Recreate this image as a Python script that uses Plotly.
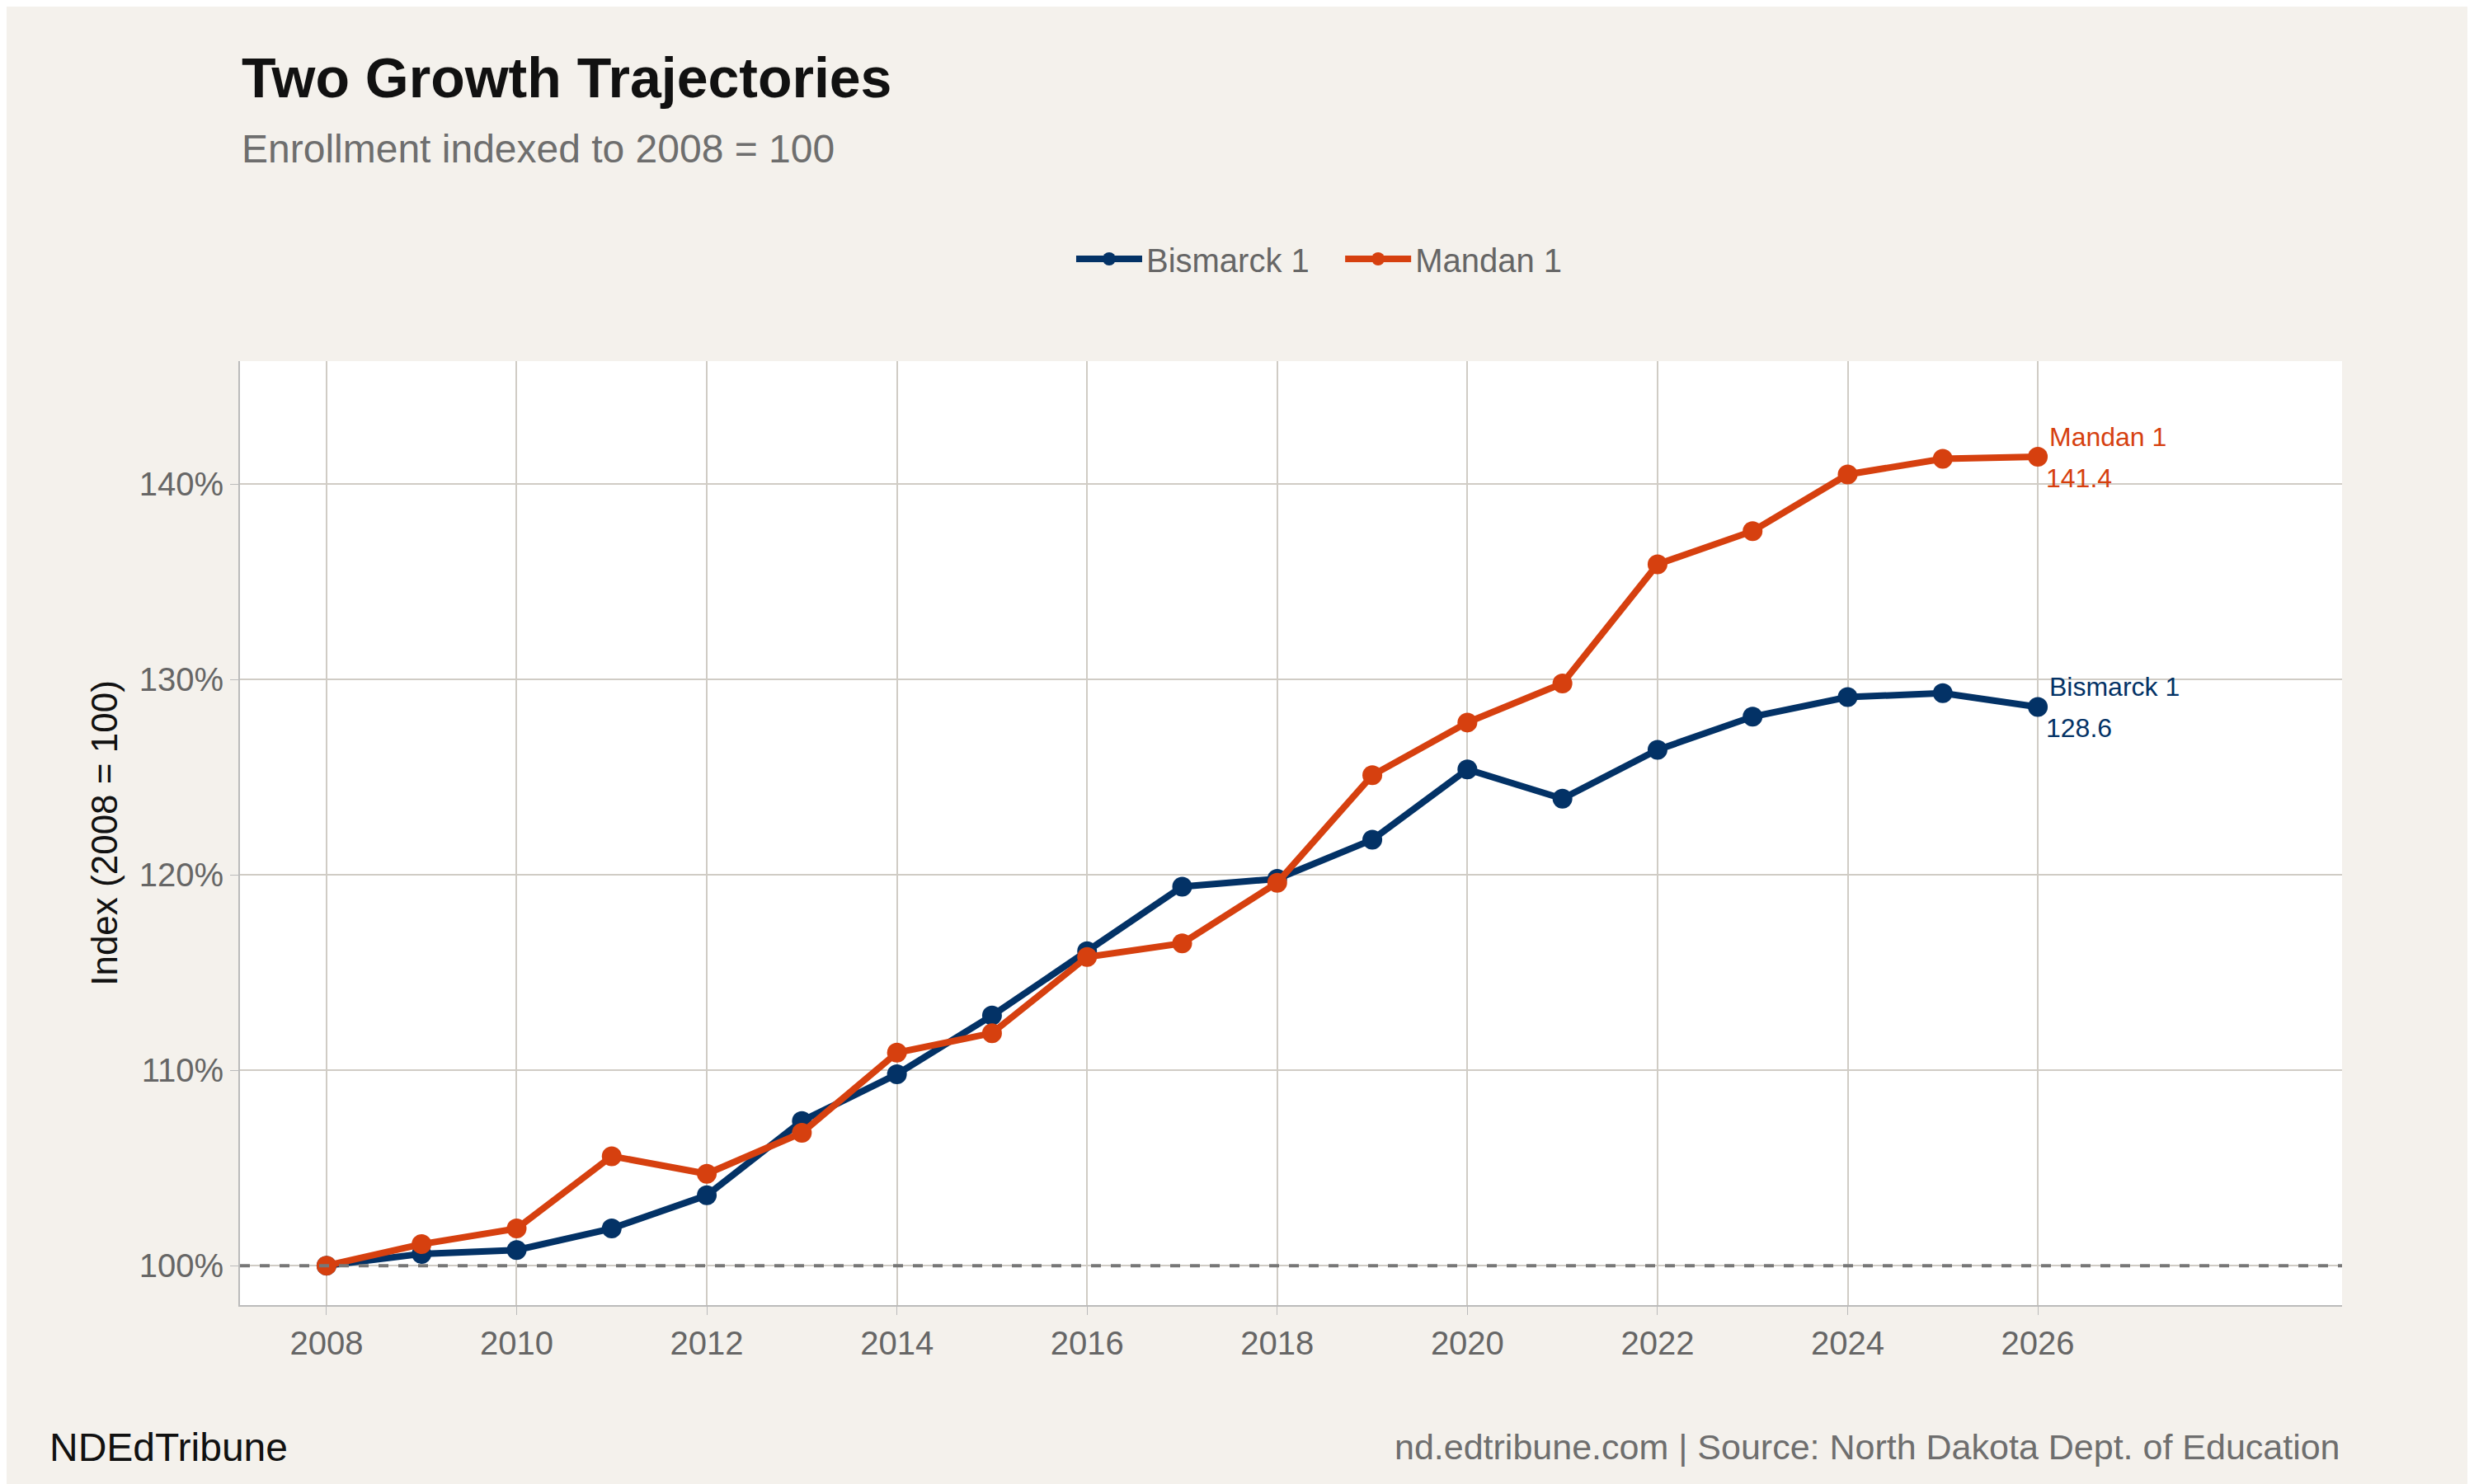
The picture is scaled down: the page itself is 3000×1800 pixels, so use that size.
import plotly.graph_objects as go

years = list(range(2008, 2027))
bismarck = [100, 100.6, 100.8, 101.9, 103.6, 107.4, 109.8, 112.8, 116.1, 119.4,
            119.8, 121.8, 125.4, 123.9, 126.4, 128.1, 129.1, 129.3, 128.6]
mandan = [100, 101.1, 101.9, 105.6, 104.7, 106.8, 110.9, 111.9, 115.8, 116.5,
          119.6, 125.1, 127.8, 129.8, 135.9, 137.6, 140.5, 141.3, 141.4]
names = ["Bismarck 1", "Mandan 1"]
colors = ["#033266", "#d6400f"]
y_ticks = [100, 110, 120, 130, 140]
y_labels = ["100%", "110%", "120%", "130%", "140%"]

W, H = 3000, 1800
L, R, T, B = 283, 168, 430, 225
font = "Liberation Sans, Arial, sans-serif"

fig = go.Figure()
for name, vals, c in zip(names, [bismarck, mandan], colors):
    fig.add_trace(go.Scatter(x=years, y=vals, name=name + "   ", mode="lines+markers",
                             line=dict(color=c, width=8), marker=dict(size=24, color=c)))
    fig.add_annotation(x=years[-1], y=vals[-1], text=name, showarrow=False, xanchor="left",
                       yanchor="bottom", xshift=12, yshift=4, font=dict(size=32, color=c, family=font))
    fig.add_annotation(x=years[-1], y=vals[-1], text=f"{vals[-1]:.1f}", showarrow=False, xanchor="left",
                       yanchor="top", xshift=8, yshift=-6, font=dict(size=32, color=c, family=font))

fig.add_hline(y=100, line=dict(color="#777777", width=4, dash="dash"))

fig.update_layout(
    width=W, height=H, paper_bgcolor="#f4f1ec", plot_bgcolor="white",
    margin=dict(l=L, r=R, t=T, b=B),
    font=dict(family=font, color="#666666", size=40),
    showlegend=True,
    legend=dict(orientation="h", x=0.52, xref="paper", xanchor="center", y=1 - 306 / H,
                yref="container", yanchor="middle", font=dict(size=40, color="#666666"),
                itemwidth=80),
    xaxis=dict(range=[2007.09, 2029.2], tickmode="array", tickvals=list(range(2008, 2027, 2)),
               showgrid=True, gridcolor="#d0ccc5", gridwidth=2, showline=True, linecolor="#bbbbbb",
               linewidth=2, zeroline=False, ticks="outside", ticklen=10, tickcolor="#bbbbbb"),
    yaxis=dict(range=[97.98, 146.3], tickmode="array", tickvals=y_ticks, ticktext=y_labels,
               showgrid=True, gridcolor="#d0ccc5", gridwidth=2, showline=True, linecolor="#bbbbbb",
               linewidth=2, zeroline=False, ticks="outside", ticklen=10, tickcolor="#bbbbbb",
               title=dict(text="Index (2008 = 100)", font=dict(size=44, color="#111111"), standoff=12)),
)

fig.add_annotation(text="<b>Two Growth Trajectories</b>", xref="paper", yref="paper", x=0, y=1 - (86 - T) / (H - T - B),
                   xanchor="left", yanchor="middle", showarrow=False, font=dict(size=68, color="#111111"))
fig.add_annotation(text="Enrollment indexed to 2008 = 100", xref="paper", yref="paper", x=0,
                   y=1 - (172 - T) / (H - T - B), xanchor="left", yanchor="middle", showarrow=False,
                   font=dict(size=48, color="#6e6e6e"))
fig.add_annotation(text="NDEdTribune", xref="paper", yref="paper", x=-(L - 50) / (W - L - R),
                   y=-(1747 - (H - B)) / (H - T - B), xanchor="left", yanchor="middle", showarrow=False,
                   font=dict(size=48, color="#111111"))
fig.add_annotation(text="nd.edtribune.com | Source: North Dakota Dept. of Education", xref="paper", yref="paper",
                   x=1, y=-(1747 - (H - B)) / (H - T - B), xanchor="right", yanchor="middle", showarrow=False,
                   font=dict(size=43, color="#6e6e6e"))

fig.write_html("out.html")
